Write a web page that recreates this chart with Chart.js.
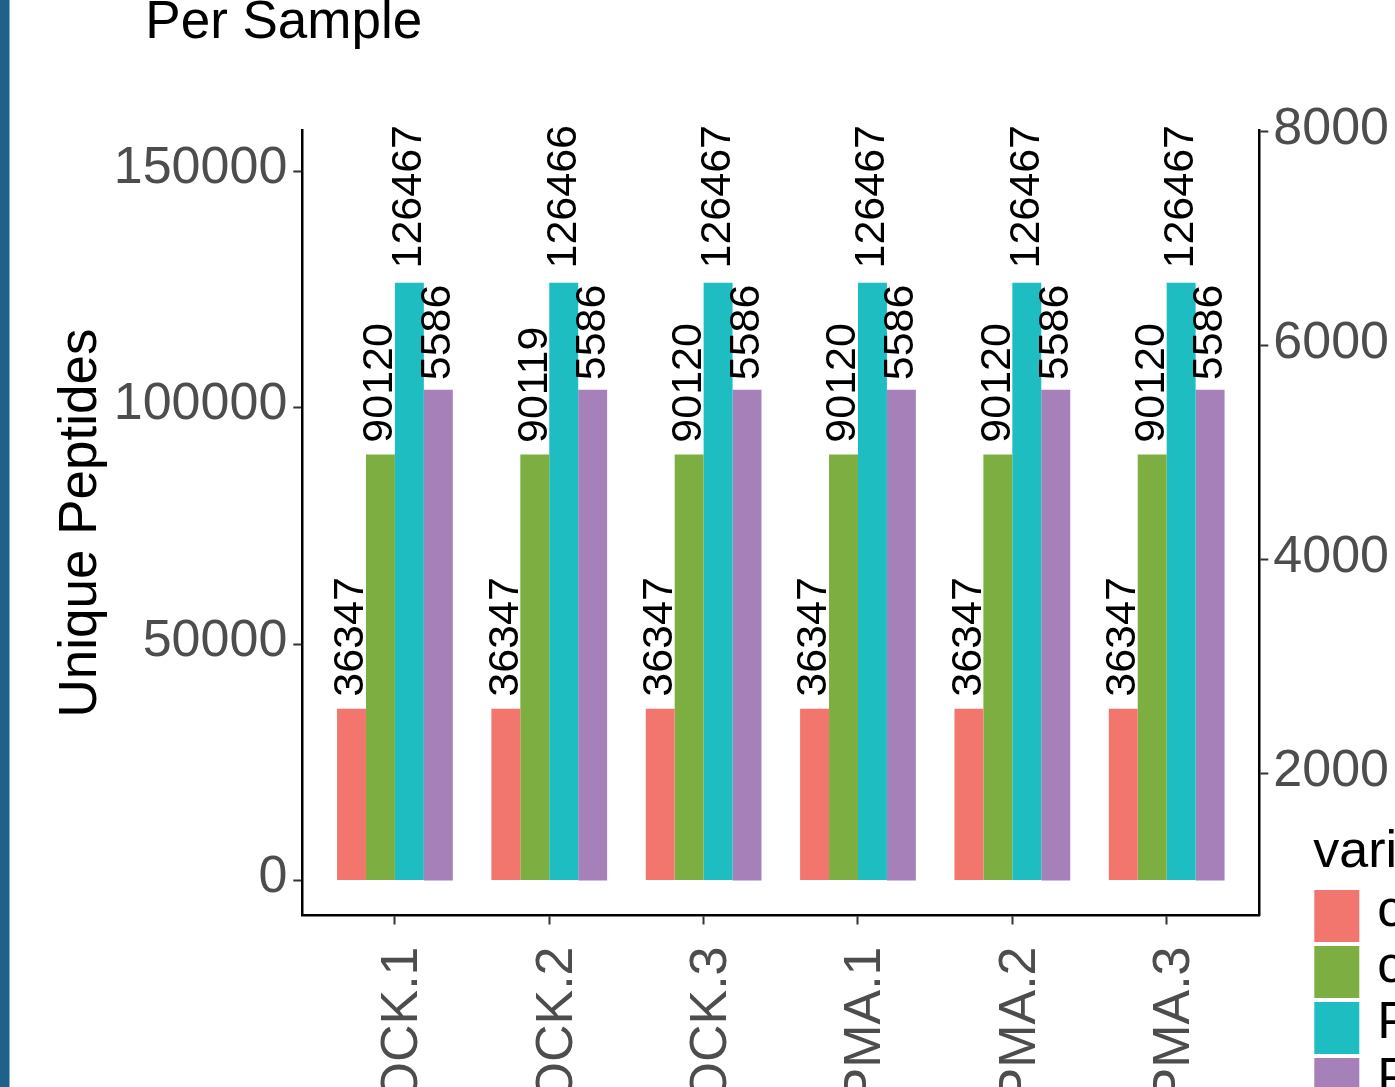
<!DOCTYPE html>
<html>
<head>
<meta charset="utf-8">
<script src="https://cdn.jsdelivr.net/npm/chart.js@4/dist/chart.umd.min.js"></script>
<style>
  html, body { margin: 0; padding: 0; background: #ffffff; overflow: hidden; }
  #wrap { position: relative; width: 1395px; height: 1087px; overflow: hidden; background: #ffffff; }
  #c { position: absolute; left: 0; top: 0; }
  #edge { position: absolute; left: 0; top: 0; width: 9px; height: 1087px; background: #1f6189; border-right: 1px solid #7fb0cf; }
</style>
</head>
<body>
<div id="wrap">
  <canvas id="c" width="1395" height="1087"></canvas>
  <div id="edge"></div>
</div>
<script>
// Samples on the x axis
const samples = ['MOCK.1', 'MOCK.2', 'MOCK.3', 'PMA.1', 'PMA.2', 'PMA.3'];
// Series (legend entries)
const seriesNames = ['count_filtered', 'count_total', 'Precursors', 'Proteins'];
const filteredCounts  = [36347, 36347, 36347, 36347, 36347, 36347];
const totalCounts     = [90120, 90119, 90120, 90120, 90120, 90120];
const precursorCounts = [126467, 126466, 126467, 126467, 126467, 126467];
const proteinCounts   = [5586, 5586, 5586, 5586, 5586, 5586];
// Axis ticks
const leftTicks  = [0, 50000, 100000, 150000];
const rightTicks = [2000, 4000, 6000, 8000];

const seriesColors = ['#F3766E', '#7CAE42', '#1EBDC2', '#A680B9'];
const FONT = '"Liberation Sans", Arial, Helvetica, sans-serif';
Chart.defaults.font.family = FONT;

const toPoints = vals => vals.map((v, i) => ({ x: i + 1, y: v }));

const datasets = [
  { label: seriesNames[0], data: toPoints(filteredCounts),  backgroundColor: seriesColors[0], yAxisID: 'y' },
  { label: seriesNames[1], data: toPoints(totalCounts),     backgroundColor: seriesColors[1], yAxisID: 'y' },
  { label: seriesNames[2], data: toPoints(precursorCounts), backgroundColor: seriesColors[2], yAxisID: 'y' },
  { label: seriesNames[3], data: toPoints(proteinCounts),   backgroundColor: seriesColors[3], yAxisID: 'y2', base: 1000 }
];

// Rotated value labels above each bar
const valueLabels = {
  id: 'valueLabels',
  afterDatasetsDraw(chart) {
    const ctx = chart.ctx;
    ctx.save();
    ctx.font = '43px ' + FONT;
    ctx.fillStyle = '#000000';
    ctx.textAlign = 'left';
    ctx.textBaseline = 'middle';
    chart.data.datasets.forEach((ds, di) => {
      const meta = chart.getDatasetMeta(di);
      meta.data.forEach((bar, i) => {
        const txt = String(ds.data[i].y);
        const w = ctx.measureText(txt).width;
        ctx.save();
        ctx.translate(bar.x, bar.y - 0.1 * w);
        ctx.rotate(-Math.PI / 2);
        ctx.fillText(txt, 0, 0);
        ctx.restore();
      });
    });
    ctx.restore();
  }
};

// Plot title and legend
const decorations = {
  id: 'decorations',
  afterDraw(chart) {
    const ctx = chart.ctx;
    const area = chart.chartArea;
    ctx.save();
    ctx.fillStyle = '#000000';
    ctx.textAlign = 'left';
    ctx.textBaseline = 'alphabetic';
    ctx.font = '53px ' + FONT;
    ctx.fillText('Per Sample', area.left - 157, 38);

    // legend
    ctx.font = '52px ' + FONT;
    const lx = area.right + 55;
    ctx.fillText('variable', lx - 1, 867);
    chart.data.datasets.forEach((ds, i) => {
      const top = 890 + i * 56;
      ctx.fillStyle = ds.backgroundColor;
      ctx.fillRect(lx, top, 45, 52);
      ctx.fillStyle = '#000000';
      ctx.fillText(ds.label, lx + 63, top + 36);
    });
    ctx.restore();
  }
};

const tickFont = { size: 52, family: FONT };
const axisGrid = { display: true, drawOnChartArea: false, drawTicks: true, tickLength: 9, tickWidth: 2, tickColor: '#333333', color: '#333333', offset: false };
const axisBorder = { display: true, color: '#000000', width: 2.5 };

new Chart(document.getElementById('c'), {
  type: 'bar',
  data: { datasets },
  plugins: [valueLabels, decorations],
  options: {
    responsive: false,
    animation: false,
    events: [],
    layout: { padding: { left: 0, right: 0, top: 130.5, bottom: 0 } },
    datasets: { bar: { categoryPercentage: 0.75, barPercentage: 1.0, borderWidth: 0 } },
    plugins: { legend: { display: false }, tooltip: { enabled: false }, title: { display: false } },
    scales: {
      x: {
        type: 'linear',
        min: 0.4,
        max: 6.6,
        offset: false,
        grid: axisGrid,
        border: axisBorder,
        afterBuildTicks: s => { s.ticks = samples.map((_, i) => ({ value: i + 1 })); },
        afterFit: s => { s.height = 171.5; },
        ticks: {
          autoSkip: false,
          minRotation: 90,
          maxRotation: 90,
          padding: 22,
          labelOffset: 8,
          color: '#4D4D4D',
          font: tickFont,
          callback: v => samples[Math.round(v) - 1]
        }
      },
      y: {
        type: 'linear',
        position: 'left',
        min: -7406,
        max: 158697,
        grid: axisGrid,
        border: axisBorder,
        afterBuildTicks: s => { s.ticks = leftTicks.map(v => ({ value: v })); },
        afterFit: s => { s.width = 302.3; },
        ticks: { padding: 6, labelOffset: -3, color: '#4D4D4D', font: tickFont, callback: v => String(v) },
        title: { display: true, text: 'Unique Peptides', color: '#000000', font: { size: 53, family: FONT }, padding: { top: 50, bottom: 0 } }
      },
      y2: {
        type: 'linear',
        position: 'right',
        min: 673,
        max: 8009,
        grid: axisGrid,
        border: axisBorder,
        afterBuildTicks: s => { s.ticks = rightTicks.map(v => ({ value: v })); },
        afterFit: s => { s.width = 1395 - 1259.3; },
        ticks: { padding: 5, labelOffset: -2, color: '#4D4D4D', font: tickFont, callback: v => String(v) }
      }
    }
  }
});
</script>
</body>
</html>
